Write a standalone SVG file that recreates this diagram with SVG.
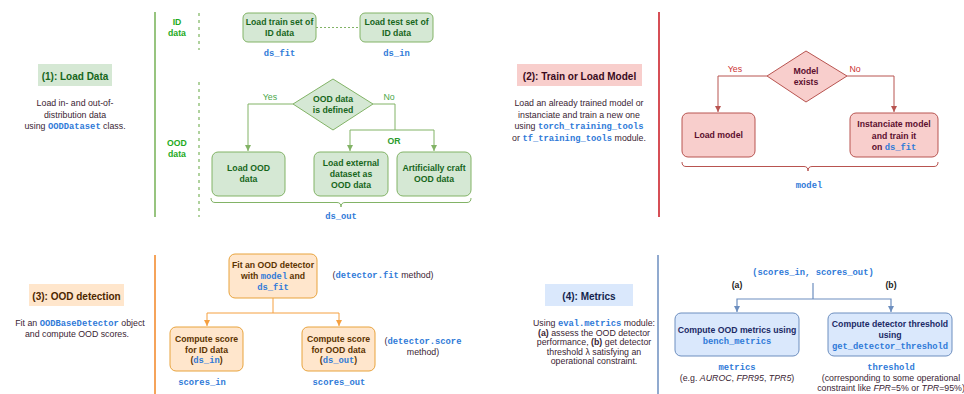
<svg xmlns="http://www.w3.org/2000/svg" width="964" height="394" viewBox="0 0 964 394">
<defs>
<style>
text{font-family:"Liberation Sans",Arial,sans-serif;font-size:8.8px;text-anchor:middle}
.b{font-weight:bold;font-size:8.7px}
.t{font-weight:bold;font-size:10px}
.m{font-family:"Liberation Mono","Courier New",monospace;font-weight:bold;fill:#2f7ad8;font-size:8.8px}
.body{fill:#3a2433}
.gbox{fill:#d5e8d4;stroke:#82b366;stroke-width:1}
.rbox{fill:#f8cecc;stroke:#b85450;stroke-width:1}
.obox{fill:#ffe6cc;stroke:#e8a33d;stroke-width:1}
.bbox{fill:#dae8fc;stroke:#6c8ebf;stroke-width:1}
.gt{fill:#17661b}.rt{fill:#5c0f2e}.ot{fill:#5c3300}.bt{fill:#1b2a66}
.gc{fill:none;stroke:#82b366;stroke-width:1}
.rc{fill:none;stroke:#b85450;stroke-width:1}
.oc{fill:none;stroke:#f5a040;stroke-width:1}
.bc{fill:none;stroke:#6c8ebf;stroke-width:1.2}
</style>
<marker id="ag" markerWidth="7" markerHeight="7" refX="6" refY="3.5" orient="auto" markerUnits="userSpaceOnUse"><path d="M0,0.5 L6,3.5 L0,6.5 Z" fill="#82b366"/></marker>
<marker id="ar" markerWidth="7" markerHeight="7" refX="6" refY="3.5" orient="auto" markerUnits="userSpaceOnUse"><path d="M0,0.5 L6,3.5 L0,6.5 Z" fill="#b85450"/></marker>
<marker id="ao" markerWidth="7" markerHeight="7" refX="6" refY="3.5" orient="auto" markerUnits="userSpaceOnUse"><path d="M0,0.5 L6,3.5 L0,6.5 Z" fill="#f5a040"/></marker>
<marker id="ab" markerWidth="7" markerHeight="7" refX="6" refY="3.5" orient="auto" markerUnits="userSpaceOnUse"><path d="M0,0.5 L6,3.5 L0,6.5 Z" fill="#6c8ebf"/></marker>
</defs>
<rect width="964" height="394" fill="#ffffff"/>

<!-- panel separators -->
<g id="separators">
<line x1="155" y1="12" x2="155" y2="217" stroke="#97c47f" stroke-width="2"/>
<line x1="659" y1="12" x2="659" y2="217" stroke="#c8141e" stroke-width="1.5"/>
<line x1="155" y1="255" x2="155" y2="394" stroke="#f5a35a" stroke-width="2"/>
<line x1="658" y1="255" x2="658" y2="394" stroke="#6c8ebf" stroke-width="1.5"/>
<line x1="199" y1="13" x2="199" y2="50" stroke="#97c47f" stroke-width="1.5" stroke-dasharray="3,4"/>
<line x1="199" y1="82" x2="199" y2="217" stroke="#97c47f" stroke-width="1.5" stroke-dasharray="3,4"/>
</g>

<!-- Panel 1 -->
<g id="title1">
<rect x="38" y="64" width="74" height="22" fill="#d5e8d4"/>
<text x="75" y="79.5" class="t gt">(1): Load Data</text>
<text x="75" y="106" class="body">Load in- and out-of-</text>
<text x="75" y="117.5" class="body">distribution data</text>
<text x="75" y="129" class="body">using <tspan class="m">OODDataset</tspan> class.</text>
</g>
<g id="idlabel"><text x="177" y="25" class="b" fill="#22aa22">ID</text><text x="177" y="36" class="b" fill="#22aa22">data</text></g>
<g id="oodlabel"><text x="177" y="146" class="b" fill="#22aa22">OOD</text><text x="177" y="157" class="b" fill="#22aa22">data</text></g>

<g id="trainset">
<rect x="243" y="13" width="73" height="29" rx="5" class="gbox"/>
<text x="279.5" y="25" class="b gt">Load train set of</text>
<text x="279.5" y="36" class="b gt">ID data</text>
<text x="279.5" y="56" class="m">ds_fit</text>
</g>
<g id="testset">
<rect x="360" y="13" width="73" height="29" rx="5" class="gbox"/>
<text x="396.5" y="25" class="b gt">Load test set of</text>
<text x="396.5" y="36" class="b gt">ID data</text>
<text x="396.5" y="56" class="m">ds_in</text>
</g>
<g id="ooddefined">
<path d="M333,79 L373,104 L333,130 L293,104 Z" class="gbox"/>
<text x="333" y="102" class="b gt">OOD data</text>
<text x="333" y="112.5" class="b gt">is defined</text>
</g>
<g id="loadood">
<rect x="212" y="152" width="73" height="44" rx="6" class="gbox"/>
<text x="248.5" y="171" class="b gt">Load OOD</text>
<text x="248.5" y="182" class="b gt">data</text>
</g>
<g id="loadext">
<rect x="314" y="152" width="74" height="44" rx="6" class="gbox"/>
<text x="351" y="166" class="b gt">Load external</text>
<text x="351" y="177" class="b gt">dataset as</text>
<text x="351" y="187.5" class="b gt">OOD data</text>
</g>
<g id="craft">
<rect x="397" y="152" width="74" height="44" rx="6" class="gbox"/>
<text x="434" y="171" class="b gt">Artificially craft</text>
<text x="434" y="182" class="b gt">OOD data</text>
</g>
<g id="dsout">
<path d="M211,198 Q211,202.5 215,202.5 L337,202.5 Q341,202.5 341,207 Q341,202.5 345,202.5 L467,202.5 Q471,202.5 471,198" fill="none" stroke="#82b366" stroke-width="1"/>
<text x="341" y="219" class="m">ds_out</text>
</g>

<!-- Panel 2 -->
<g id="title2">
<rect x="517" y="64" width="125" height="22" fill="#f8cecc"/>
<text x="579.5" y="79.5" class="t" fill="#3a0a1c">(2): Train or Load Model</text>
<text x="579" y="106" class="body">Load an already trained model or</text>
<text x="579" y="117.5" class="body">instanciate and train a new one</text>
<text x="579" y="129" class="body">using <tspan class="m">torch_training_tools</tspan></text>
<text x="579" y="140.5" class="body">or <tspan class="m">tf_training_tools</tspan> module.</text>
</g>
<g id="modelexists">
<path d="M806,51 L847,76 L806,102 L767,76 Z" class="rbox"/>
<text x="806" y="74" class="b rt">Model</text>
<text x="806" y="85" class="b rt">exists</text>
</g>
<g id="loadmodel">
<rect x="682" y="113" width="73" height="44" rx="6" class="rbox"/>
<text x="718.5" y="138" class="b rt">Load model</text>
</g>
<g id="instanciate">
<rect x="850" y="113" width="88" height="44" rx="6" class="rbox"/>
<text x="894" y="127" class="b rt">Instanciate model</text>
<text x="894" y="139" class="b rt">and train it</text>
<text x="894" y="149.5" class="b rt">on <tspan class="m">ds_fit</tspan></text>
</g>
<g id="modelout">
<path d="M682,162 Q682,166.5 686,166.5 L804,166.5 Q808,166.5 808,171 Q808,166.5 812,166.5 L934,166.5 Q938,166.5 938,162" fill="none" stroke="#b85450" stroke-width="1"/>
<text x="809" y="188" class="m">model</text>
</g>

<!-- Panel 3 -->
<g id="title3">
<rect x="29" y="284" width="95" height="22" fill="#ffe6cc"/>
<text x="76.5" y="299.5" class="t" fill="#4d2600">(3): OOD detection</text>
<text x="80" y="326" class="body">Fit an <tspan class="m">OODBaseDetector</tspan> object</text>
<text x="77" y="336.5" class="body">and compute OOD scores.</text>
</g>
<g id="fitdetector">
<rect x="229" y="254" width="88" height="44" rx="6" class="obox"/>
<text x="273" y="268" class="b ot">Fit an OOD detector</text>
<text x="273" y="278.5" class="b ot">with <tspan class="m">model</tspan> and</text>
<text x="273" y="290" class="m">ds_fit</text>
<text x="383" y="278" class="body">(<tspan class="m">detector.fit</tspan> method)</text>
</g>
<g id="scoreid">
<rect x="170" y="327" width="73" height="44" rx="6" class="obox"/>
<text x="206.5" y="342" class="b ot">Compute score</text>
<text x="206.5" y="352.5" class="b ot">for ID data</text>
<text x="206.5" y="362.5" class="b ot">(<tspan class="m">ds_in</tspan>)</text>
<text x="202" y="385" class="m">scores_in</text>
</g>
<g id="scoreood">
<rect x="302" y="327" width="73" height="44" rx="6" class="obox"/>
<text x="338.5" y="342" class="b ot">Compute score</text>
<text x="338.5" y="352.5" class="b ot">for OOD data</text>
<text x="338.5" y="362.5" class="b ot">(<tspan class="m">ds_out</tspan>)</text>
<text x="339" y="385" class="m">scores_out</text>
<text x="423" y="344" class="body">(<tspan class="m">detector.score</tspan></text>
<text x="423" y="355" class="body">method)</text>
</g>

<!-- Panel 4 -->
<g id="title4">
<rect x="545" y="284" width="88" height="22" fill="#dae8fc"/>
<text x="589" y="299.5" class="t" fill="#141f4d">(4): Metrics</text>
<text x="594" y="326" class="body">Using <tspan class="m">eval.metrics</tspan> module:</text>
<text x="594" y="335.5" class="body"><tspan font-weight="bold">(a)</tspan> assess the OOD detector</text>
<text x="594" y="345" class="body">performance, <tspan font-weight="bold">(b)</tspan> get detector</text>
<text x="594" y="354.5" class="body">threshold λ satisfying an</text>
<text x="594" y="364" class="body">operational constraint.</text>
</g>
<g id="scoresin">
<text x="813" y="275" class="m">(scores_in, scores_out)</text>
<text x="737" y="288" class="b" fill="#222">(a)</text>
<text x="891" y="288" class="b" fill="#222">(b)</text>
</g>
<g id="benchmetrics">
<rect x="675" y="313" width="124" height="43" rx="6" class="bbox"/>
<text x="737" y="333" class="b bt">Compute OOD metrics using</text>
<text x="737" y="344" class="m">bench_metrics</text>
<text x="737" y="370" class="m">metrics</text>
<text x="737" y="381" class="body">(e.g. <tspan font-style="italic">AUROC</tspan>, <tspan font-style="italic">FPR95</tspan>, <tspan font-style="italic">TPR5</tspan>)</text>
</g>
<g id="threshold">
<rect x="828" y="313" width="124" height="43" rx="6" class="bbox"/>
<text x="890" y="327" class="b bt">Compute detector threshold</text>
<text x="890" y="338" class="b bt">using</text>
<text x="890" y="349" class="m">get_detector_threshold</text>
<text x="891" y="370" class="m">threshold</text>
<text x="891" y="381" class="body">(corresponding to some operational</text>
<text x="891" y="391" class="body">constraint like <tspan font-style="italic">FPR</tspan>=5% or <tspan font-style="italic">TPR</tspan>=95%)</text>
</g>

<!-- connectors -->
<g id="connectors">
<line x1="316" y1="27.5" x2="360" y2="27.5" stroke="#82b366" stroke-width="1" stroke-dasharray="2,2"/>
<path d="M293,104 L248,104 L248,151" class="gc" marker-end="url(#ag)"/>
<text x="270" y="100" fill="#4aa84a">Yes</text>
<path d="M373,104 L395,104 L395,130" class="gc"/>
<text x="389" y="100" fill="#4aa84a">No</text>
<path d="M395,130 L350,130 L350,151" class="gc" marker-end="url(#ag)"/>
<path d="M395,130 L434,130 L434,151" class="gc" marker-end="url(#ag)"/>
<text x="394" y="144" class="b" fill="#2a9a2a">OR</text>

<path d="M767,76 L718,76 L718,112" class="rc" marker-end="url(#ar)"/>
<text x="735" y="72" fill="#cc3333">Yes</text>
<path d="M847,76 L894,76 L894,112" class="rc" marker-end="url(#ar)"/>
<text x="855" y="72" fill="#cc3333">No</text>

<path d="M273,298 L273,313" class="oc"/>
<path d="M273,313 L207,313 L207,326" class="oc" marker-end="url(#ao)"/>
<path d="M273,313 L339,313 L339,326" class="oc" marker-end="url(#ao)"/>

<path d="M813,283 L813,299" class="bc"/>
<path d="M813,299 L737,299 L737,312" class="bc" marker-end="url(#ab)"/>
<path d="M813,299 L891,299 L891,312" class="bc" marker-end="url(#ab)"/>
</g>
</svg>
